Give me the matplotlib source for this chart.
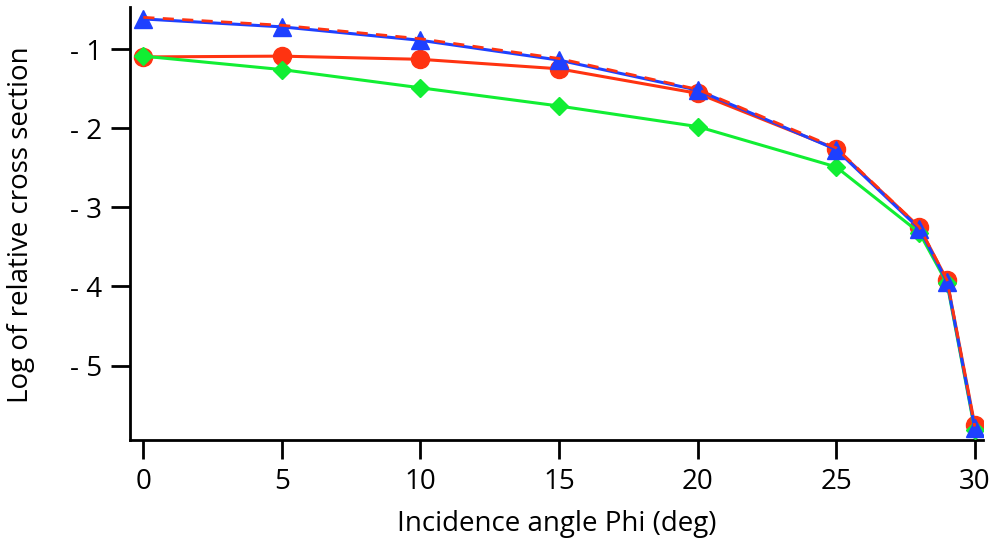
import matplotlib
matplotlib.use("Agg")
import matplotlib.pyplot as plt
from matplotlib.ticker import FuncFormatter, FixedLocator

plt.rcParams['font.family'] = ['Open Sans', 'DejaVu Sans']

angles = [0, 5, 10, 15, 20, 25, 28, 29, 30]
red_circles = [-1.10, -1.09, -1.13, -1.25, -1.56, -2.26, -3.25, -3.92, -5.75]
blue_triangles = [-0.62, -0.72, -0.89, -1.14, -1.52, -2.27, -3.27, -3.94, -5.79]
red_dashed = [-0.60, -0.70, -0.87, -1.12, -1.51, -2.25, -3.25, -3.92, -5.77]
green_diamonds = [-1.09, -1.26, -1.49, -1.72, -1.98, -2.49, -3.32, -3.96, -5.81]

x_ticks = [0, 5, 10, 15, 20, 25, 30]
y_ticks = [-1, -2, -3, -4, -5]

RED = '#FF3311'
GREEN = '#11EE33'
BLUE = '#1E40FF'

fig = plt.figure(figsize=(9.95, 5.44), dpi=100)
ax = fig.add_axes([0.1307, 0.1912, 0.988 - 0.1307, 0.987 - 0.1912])

ax.plot(angles, red_circles, color=RED, lw=2.2, marker='o', ms=13, zorder=3)
ax.plot(angles, green_diamonds, color=GREEN, lw=2.2, marker='D', ms=9, zorder=4)
ax.plot(angles, blue_triangles, color=BLUE, lw=2.2, marker='^', ms=13, zorder=5)
ax.plot(angles, red_dashed, color=RED, lw=2.0, ls=(0, (4, 3)), zorder=6)

ax.set_xlim(-0.48, 30.3)
ax.set_ylim(-5.94, -0.47)

ax.xaxis.set_major_locator(FixedLocator(x_ticks))
ax.yaxis.set_major_locator(FixedLocator(y_ticks))
ax.yaxis.set_major_formatter(FuncFormatter(lambda v, p: "- %d" % abs(round(v))))
ax.xaxis.set_major_formatter(FuncFormatter(lambda v, p: "%d" % round(v)))

for s in ['top', 'right']:
    ax.spines[s].set_visible(False)
for s in ['left', 'bottom']:
    ax.spines[s].set_linewidth(2.0)
    ax.spines[s].set_color('black')

ax.tick_params(axis='both', direction='out', length=14, width=2.0, labelsize=20, colors='black')
ax.tick_params(axis='y', pad=6)
ax.tick_params(axis='x', pad=6)

ax.set_xlabel('Incidence angle Phi (deg)', fontsize=20, labelpad=10)
ax.set_ylabel('Log of relative cross section', fontsize=20)
ax.yaxis.set_label_coords(-0.111, 0.497)

fig.savefig('out.png', dpi=100)
